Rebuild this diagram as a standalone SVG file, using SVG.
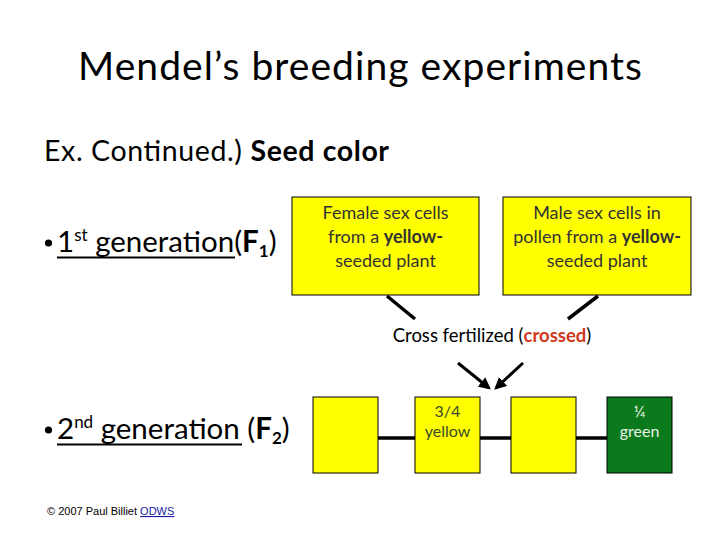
<svg xmlns="http://www.w3.org/2000/svg" width="720" height="540" viewBox="0 0 720 540">
<style>
text{font-family:Lato,"Open Sans",sans-serif;}
.box{stroke:#000;stroke-width:1;}
.y{fill:#ffff00;}
.g{fill:#0a7a1c;}
.bt{font-size:18px;fill:#333;text-anchor:middle;}
.st{font-size:16px;text-anchor:middle;}
.ln{stroke:#000;stroke-width:3.5;fill:none;}
.ar{stroke:#000;stroke-width:3;fill:none;marker-end:url(#ah);}
.big{font-size:28.5px;fill:#000;}
.gen{font-size:29.5px;fill:#000;}
.bul{fill:#000;}
.ul{stroke:#000;stroke-width:2;}
</style>
<defs>
<marker id="ah" viewBox="0 0 10 10" refX="8" refY="5" markerWidth="4" markerHeight="4" orient="auto">
<path d="M0,0 L10,5 L0,10 z" fill="#000"/>
</marker>
</defs>
<rect width="720" height="540" fill="#fff"/>
<text x="78" y="80" font-size="39" textLength="564" lengthAdjust="spacing" fill="#000">Mendel’s breeding experiments</text>
<text x="44" y="161" class="big" textLength="345" lengthAdjust="spacing">Ex. Continued.) <tspan font-weight="bold">Seed color</tspan></text>
<g id="f1label">
<circle cx="48.5" cy="243" r="3.6" class="bul"/>
<text x="57" y="252" class="gen">1<tspan font-size="17" dy="-11">st</tspan><tspan dy="11"> generation</tspan>(<tspan font-weight="bold">F<tspan font-size="17" dy="5">1</tspan></tspan><tspan dy="-5">)</tspan></text>
<line x1="57" y1="257.5" x2="235" y2="257.5" class="ul"/>
</g>
<g id="f2label">
<circle cx="48.5" cy="430" r="3.6" class="bul"/>
<text x="57" y="439" class="gen">2<tspan font-size="17" dy="-11">nd</tspan><tspan dy="11"> generation</tspan> (<tspan font-weight="bold">F<tspan font-size="17" dy="5">2</tspan></tspan><tspan dy="-5">)</tspan></text>
<line x1="57" y1="444.5" x2="242" y2="444.5" class="ul"/>
</g>
<g id="female">
<rect x="292" y="197" width="187" height="98" class="box y"/>
<text class="bt"><tspan x="385.5" y="219">Female sex cells</tspan><tspan x="385.5" y="243">from a <tspan font-weight="bold">yellow-</tspan></tspan><tspan x="385.5" y="267">seeded plant</tspan></text>
</g>
<g id="male">
<rect x="503" y="197" width="188" height="98" class="box y"/>
<text class="bt"><tspan x="597" y="219">Male sex cells in</tspan><tspan x="597" y="243">pollen from a <tspan font-weight="bold">yellow-</tspan></tspan><tspan x="597" y="267">seeded plant</tspan></text>
</g>
<g id="cross">
<text x="492" y="342" font-size="18.5" text-anchor="middle" fill="#000">Cross fertilized (<tspan font-weight="bold" fill="#d0381c">crossed</tspan>)</text>
</g>
<g id="connectors">
<line x1="387" y1="296" x2="415" y2="319" class="ln" stroke-width="3"/>
<line x1="598" y1="296" x2="568" y2="319" class="ln" stroke-width="3"/>
<line x1="458" y1="363" x2="489" y2="388" class="ar"/>
<line x1="523" y1="363" x2="496" y2="388" class="ar"/>
<line x1="378" y1="438" x2="415" y2="438" class="ln"/>
<line x1="480" y1="438" x2="511" y2="438" class="ln"/>
<line x1="576" y1="438" x2="607" y2="438" class="ln"/>
</g>
<g id="box1"><rect x="313" y="397" width="65" height="76" class="box y"/></g>
<g id="box2"><rect x="415" y="397" width="65" height="76" class="box y"/>
<text class="st" fill="#3a4a2a"><tspan x="447.5" y="417">3/4</tspan><tspan x="447.5" y="437">yellow</tspan></text></g>
<g id="box3"><rect x="511" y="397" width="65" height="76" class="box y"/></g>
<g id="box4"><rect x="607" y="397" width="65" height="76" class="box g"/>
<text class="st" fill="#e6f2e6"><tspan x="639.5" y="417">¼</tspan><tspan x="639.5" y="437">green</tspan></text></g>
<text x="47" y="515" font-size="11" fill="#000" style="font-family:'Liberation Sans',sans-serif">© 2007 Paul Billiet <tspan fill="#1a1aa0" text-decoration="underline">ODWS</tspan></text>
</svg>
